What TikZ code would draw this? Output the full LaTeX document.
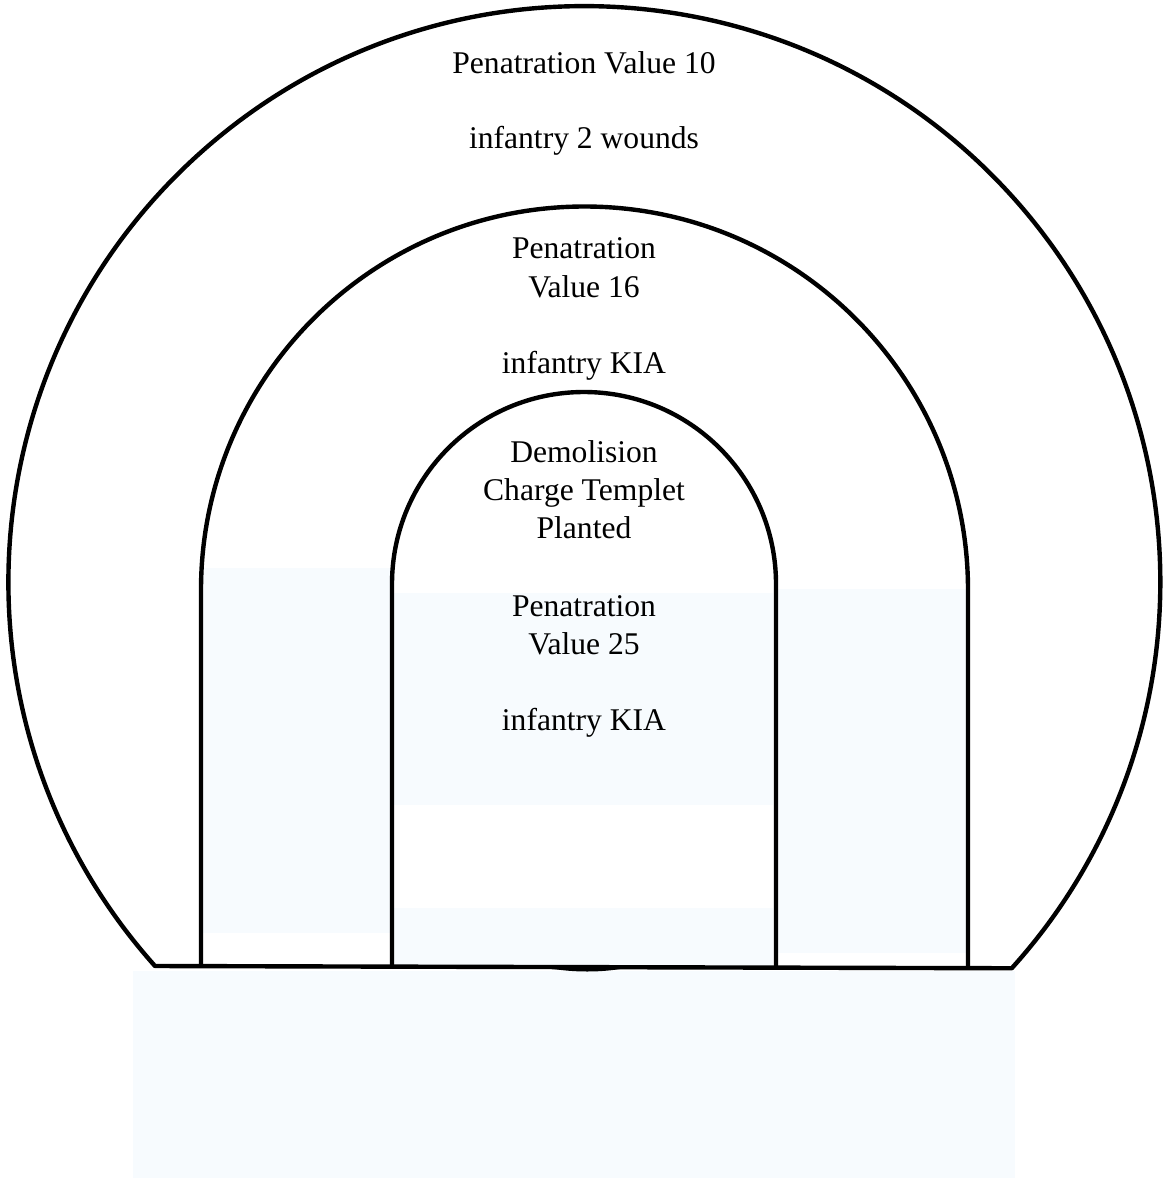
\documentclass[tikz,border=0pt]{standalone}
\usepackage{fontspec}
\setmainfont{Liberation Serif}
\definecolor{paleblue}{RGB}{247,251,254}
\tikzset{
  wall/.style={line width=2.2pt, line join=round},
  pale/.style={fill=paleblue, draw=none},
  lbl/.style={anchor=base, inner sep=0pt, font=\fontsize{15.8pt}{19pt}\selectfont}
}
\begin{document}
\begin{tikzpicture}[x=0.5pt,y=-0.5pt]
\useasboundingbox (0,0) rectangle (1162,1178);
% pale fills
\fill[pale] (203,568) rectangle (390,933);
\fill[pale] (393,593) rectangle (773,805);
\fill[pale] (393,908) rectangle (773,966);
\fill[pale] (778,589) rectangle (967,953);
\fill[pale] (133,971) rectangle (1015,1178);
% key points
\coordinate (oc) at (584.5,582);
\coordinate (bl) at (155,966);
\coordinate (br) at (1012,968);
\coordinate (m1) at (201,966);
\coordinate (m2) at (201,590);
\coordinate (m4) at (968,968);
\coordinate (i1) at (392,966);
\coordinate (i2) at (392,584);
\coordinate (i4) at (776,966);
% outer dome
\draw[wall] (bl) arc[start angle=138.2, end angle=402.1, radius=576] -- cycle;
% middle arch
\draw[wall] (m1) -- (m2) arc[start angle=180, end angle=360, radius=383.5] -- (m4);
% inner arch
\draw[wall] (i1) -- (i2) arc[start angle=180, end angle=360, radius=192] -- (i4);
% small bulge under the base line
\coordinate (ba) at (543,967);
\coordinate (bb) at (630,967);
\fill (ba) .. controls (570,973) and (605,973) .. (bb) -- cycle;
% texts
\node[lbl] (t1) at (584,73) {Penatration Value 10};
\node[lbl] (t2) at (584,148) {infantry 2 wounds};
\node[lbl] (t3) at (584,258) {Penatration};
\node[lbl] (t4) at (584,297) {Value 16};
\node[lbl] (t5) at (584,373) {infantry KIA};
\node[lbl] (t6) at (584,462) {Demolision};
\node[lbl] (t7) at (584,500) {Charge Templet};
\node[lbl] (t8) at (584,538) {Planted};
\node[lbl] (t9) at (584,616) {Penatration};
\node[lbl] (t10) at (584,654) {Value 25};
\node[lbl] (t11) at (584,730) {infantry KIA};
\end{tikzpicture}
\end{document}
